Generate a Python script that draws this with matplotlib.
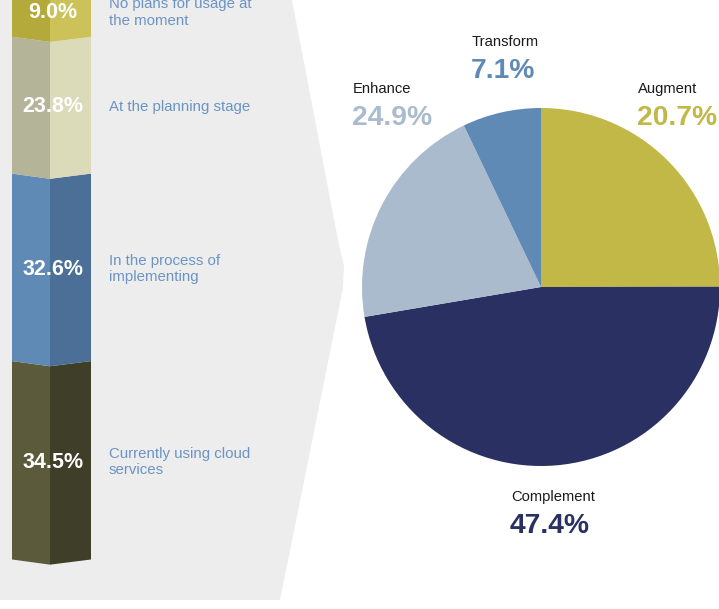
import numpy as np
import matplotlib
matplotlib.use("Agg")
import matplotlib.pyplot as plt
from matplotlib.patches import Polygon

plt.rcParams['font.family'] = ['Liberation Sans', 'DejaVu Sans']

# stacked bar (bottom -> top)
bar_values = [34.5, 32.6, 23.8, 9.0]
bar_labels = ["Currently using cloud\nservices",
              "In the process of\nimplementing",
              "At the planning stage",
              "No plans for usage at\nthe moment"]
bar_left_col = ["#5b5a3b", "#5f8ab6", "#b4b498", "#b3aa3b"]
bar_right_col = ["#3f3e28", "#4b6f96", "#dbdbb9", "#cbc25a"]

# pie (clockwise from 12 o'clock); slice shares as drawn, labels as printed
pie_names = ["Augment", "Complement", "Enhance", "Transform"]
pie_share = [25.0, 47.4, 20.6, 7.1]
pie_pct = ["20.7%", "47.4%", "24.9%", "7.1%"]
pie_cols = ["#c1b847", "#2a3061", "#aabbce", "#5f8ab6"]

fig = plt.figure(figsize=(7.19, 6.09), dpi=100)
fig.patch.set_facecolor("white")

# background panel, pixel coords
ax_bg = fig.add_axes([0, 0, 1, 1])
ax_bg.set_xlim(0, 719)
ax_bg.set_ylim(609, 0)
ax_bg.axis("off")
shape = [(0, 0), (292, 0), (339, 245), (344, 266), (343, 288), (280, 600), (0, 600)]
ax_bg.add_patch(Polygon(shape, closed=True, fc="#ededed", ec="none"))

# bar axes: x in pixels, y in percent
ax_bar = fig.add_axes([0, 0, 1, 1])
ax_bar.set_xlim(0, 719)
ax_bar.set_ylim(-8.61, 97.29)
ax_bar.axis("off")
x0, xm, x1 = 12, 50, 91
dip = 0.9
cum = np.concatenate([[0], np.cumsum(bar_values)])
for i, v in enumerate(bar_values):
    lo, hi = cum[i], cum[i + 1]
    ax_bar.add_patch(Polygon([(x0, lo), (xm, lo - dip), (xm, hi - dip), (x0, hi)],
                             closed=True, fc=bar_left_col[i], ec="none"))
    ax_bar.add_patch(Polygon([(xm, lo - dip), (x1, lo), (x1, hi), (xm, hi - dip)],
                             closed=True, fc=bar_right_col[i], ec="none"))
    mid = (lo + hi) / 2 - 0.3
    ax_bar.text(53, mid, f"{v:.1f}%", color="white", fontsize=15.5,
                fontweight="bold", ha="center", va="center")
    ax_bar.text(109, mid, bar_labels[i], color="#6b94c4", fontsize=10.8,
                ha="left", va="center", linespacing=1.2)

# pie
cx, cy, r = 541, 287, 179
ax_pie = fig.add_axes([(cx - r) / 719, (609 - cy - r) / 609, 2 * r / 719, 2 * r / 609])
ax_pie.pie(pie_share, colors=pie_cols, startangle=90, counterclock=False,
           radius=1, wedgeprops=dict(linewidth=0))
ax_pie.set_xlim(-1, 1)
ax_pie.set_ylim(-1, 1)
ax_pie.set_aspect("equal")
ax_pie.axis("off")

# pie labels (pixel coords)
label_pos = {"Augment": (638, 89), "Complement": (511, 497),
             "Enhance": (353, 89), "Transform": (472, 42)}
for name, pct, col in zip(pie_names, pie_pct, pie_cols):
    lx, ly = label_pos[name]
    ax_bg.text(lx, ly, name, color="#1a1a1a", fontsize=10.6, ha="left", va="center",
               zorder=5)
    ax_bg.text(lx - 1, ly + 29, pct, color=col, fontsize=20.3, fontweight="bold",
               ha="left", va="center", zorder=5)

fig.savefig("out.png", dpi=100, facecolor="white")
